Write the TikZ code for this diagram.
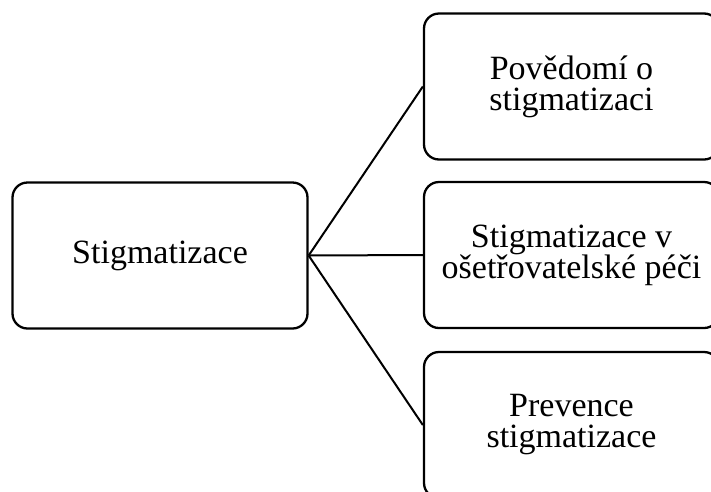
\documentclass[tikz,border=0pt]{standalone}
\usepackage{fontspec}
\setmainfont{Liberation Serif}
\usepackage{tikz}

\begin{document}
\begin{tikzpicture}[x=1pt, y=-1pt,
    termbox/.style={draw, line width=2.3pt, rounded corners=15pt,
      minimum width=295pt, minimum height=146pt, align=center,
      font=\fontsize{34}{31}\selectfont},
    link/.style={line width=2pt}]

  \useasboundingbox (0,0) rectangle (711,491);
  \clip (0,0) rectangle (711,491);

  % Root and branches
  \node[termbox] (root) at (160, 255.5) {Stigmatizace};

  \node[termbox] (aware) at (571.5, 86.5) {Povědomí o\\stigmatizaci};
  \node[termbox] (care)  at (571.5, 255)  {Stigmatizace v\\ošetřovatelské péči};
  \node[termbox] (prev)  at (571.5, 425)  {Prevence\\stigmatizace};

  \draw[link] (root.east) -- (aware.west);
  \draw[link] (root.east) -- (care.west);
  \draw[link] (root.east) -- (prev.west);

\end{tikzpicture}
\end{document}
